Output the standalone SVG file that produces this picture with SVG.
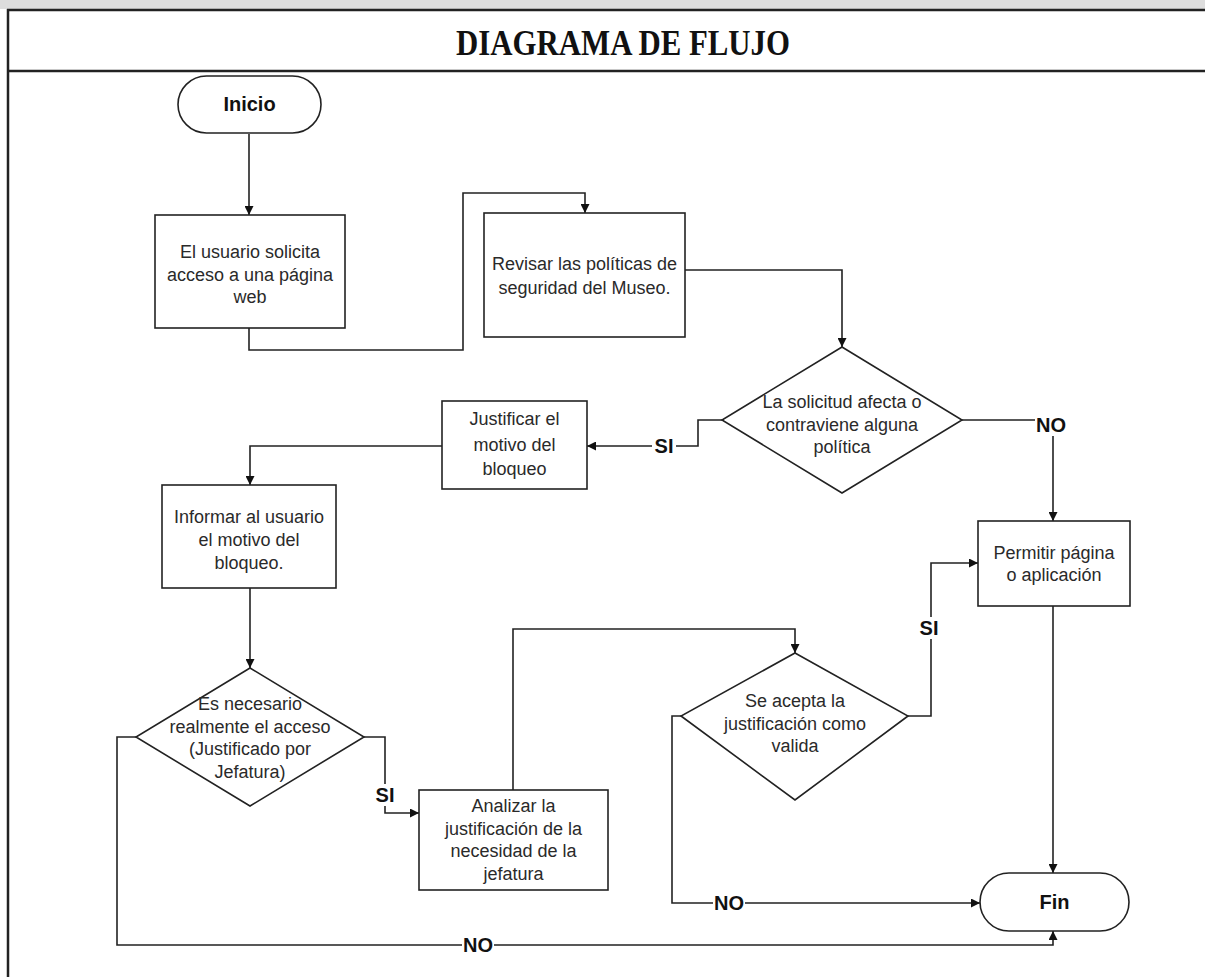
<svg xmlns="http://www.w3.org/2000/svg" width="1205" height="977" viewBox="0 0 1205 977">
<defs>
<marker id="arr" viewBox="0 0 10 10" refX="10" refY="5" markerWidth="9" markerHeight="9" markerUnits="userSpaceOnUse" orient="auto">
<path d="M0,0 L10,5 L0,10 z" fill="#111"/>
</marker>
<style>
.shape{fill:#fff;stroke:#222;stroke-width:1.6}
.t{font-family:"Liberation Sans",Arial,sans-serif;font-size:18px;fill:#2a2a2a;text-anchor:middle}
.b{font-family:"Liberation Sans",Arial,sans-serif;font-size:20px;font-weight:bold;fill:#111;text-anchor:middle}
.lbl{font-family:"Liberation Sans",Arial,sans-serif;font-size:20px;font-weight:bold;fill:#111;text-anchor:middle}
.c{fill:none;stroke:#222;stroke-width:1.6}
.frame{stroke:#222;stroke-width:2.5}
</style>
</defs>
<rect x="0" y="0" width="1205" height="977" fill="#fff"/>
<rect x="0" y="0" width="1205" height="9" fill="#ddd"/>
<line class="frame" x1="7" y1="10" x2="1205" y2="10"/>
<line class="frame" x1="7" y1="71" x2="1205" y2="71"/>
<line class="frame" x1="8" y1="9" x2="8" y2="977"/>
<text x="623" y="55" font-family="Liberation Serif,Times New Roman,serif" font-size="35" font-weight="bold" text-anchor="middle" fill="#111" textLength="334" lengthAdjust="spacingAndGlyphs">DIAGRAMA DE FLUJO</text>

<g id="connectors">
<path class="c" d="M249,134 V215" marker-end="url(#arr)"/>
<path class="c" d="M249,328 V350 H463 V193 H585 V213" marker-end="url(#arr)"/>
<path class="c" d="M685,270 H842 V347" marker-end="url(#arr)"/>
<path class="c" d="M722,420 H698 V446 H587" marker-end="url(#arr)"/>
<path class="c" d="M442,446 H250 V485" marker-end="url(#arr)"/>
<path class="c" d="M250,588 V668" marker-end="url(#arr)"/>
<path class="c" d="M364,737 H385 V813 H419" marker-end="url(#arr)"/>
<path class="c" d="M136,737 H117 V945 H1053 V931" marker-end="url(#arr)"/>
<path class="c" d="M513,790 V629 H795 V653" marker-end="url(#arr)"/>
<path class="c" d="M908,716 H931 V563 H978" marker-end="url(#arr)"/>
<path class="c" d="M681,716 H672 V903 H980" marker-end="url(#arr)"/>
<path class="c" d="M962,420 H1053 V521" marker-end="url(#arr)"/>
<path class="c" d="M1053,606 V873" marker-end="url(#arr)"/>
<rect x="652" y="435" width="24" height="22" fill="#fff"/>
<text class="lbl" x="664" y="453">SI</text>
<rect x="1035" y="414" width="32" height="22" fill="#fff"/>
<text class="lbl" x="1051" y="432">NO</text>
<rect x="374" y="784" width="22" height="22" fill="#fff"/>
<text class="lbl" x="385" y="802">SI</text>
<rect x="918" y="617" width="22" height="22" fill="#fff"/>
<text class="lbl" x="929" y="635">SI</text>
<rect x="713" y="892" width="32" height="22" fill="#fff"/>
<text class="lbl" x="729" y="910">NO</text>
<rect x="462" y="934" width="32" height="22" fill="#fff"/>
<text class="lbl" x="478" y="952">NO</text>
</g>

<g id="inicio">
<rect class="shape" x="178" y="76" width="143" height="57" rx="28.5"/>
<text class="b" x="249.5" y="111">Inicio</text>
</g>
<g id="solicita">
<rect class="shape" x="155" y="215" width="190" height="113"/>
<text class="t" x="250" y="258">El usuario solicita</text>
<text class="t" x="250" y="281">acceso a una página</text>
<text class="t" x="250" y="303">web</text>
</g>
<g id="revisar">
<rect class="shape" x="484" y="213" width="201" height="124"/>
<text class="t" x="584.5" y="270">Revisar las políticas de</text>
<text class="t" x="584.5" y="294">seguridad del Museo.</text>
</g>
<g id="dec1">
<polygon class="shape" points="842,347 962,420 842,493 722,420"/>
<text class="t" x="842" y="408">La solicitud afecta o</text>
<text class="t" x="842" y="431">contraviene alguna</text>
<text class="t" x="842" y="453">política</text>
</g>
<g id="justificar">
<rect class="shape" x="442" y="401" width="145" height="88"/>
<text class="t" x="514.5" y="425">Justificar el</text>
<text class="t" x="514.5" y="451">motivo del</text>
<text class="t" x="514.5" y="475">bloqueo</text>
</g>
<g id="informar">
<rect class="shape" x="162" y="485" width="174" height="103"/>
<text class="t" x="249" y="523">Informar al usuario</text>
<text class="t" x="249" y="546">el motivo del</text>
<text class="t" x="249" y="569">bloqueo.</text>
</g>
<g id="dec2">
<polygon class="shape" points="250,668 364,737 250,806 136,737"/>
<text class="t" x="250" y="710">Es necesario</text>
<text class="t" x="250" y="733">realmente el acceso</text>
<text class="t" x="250" y="755">(Justificado por</text>
<text class="t" x="250" y="778">Jefatura)</text>
</g>
<g id="analizar">
<rect class="shape" x="419" y="790" width="189" height="100"/>
<text class="t" x="513.5" y="812">Analizar la</text>
<text class="t" x="513.5" y="835">justificación de la</text>
<text class="t" x="513.5" y="857">necesidad de la</text>
<text class="t" x="513.5" y="880">jefatura</text>
</g>
<g id="dec3">
<polygon class="shape" points="795,653 908,716 795,800 681,716"/>
<text class="t" x="795" y="707">Se acepta la</text>
<text class="t" x="795" y="730">justificación como</text>
<text class="t" x="795" y="752">valida</text>
</g>
<g id="permitir">
<rect class="shape" x="978" y="521" width="152" height="85"/>
<text class="t" x="1054" y="559">Permitir página</text>
<text class="t" x="1054" y="581">o aplicación</text>
</g>
<g id="fin">
<rect class="shape" x="980" y="873" width="149" height="58" rx="29"/>
<text class="b" x="1054.5" y="909">Fin</text>
</g>
</svg>
